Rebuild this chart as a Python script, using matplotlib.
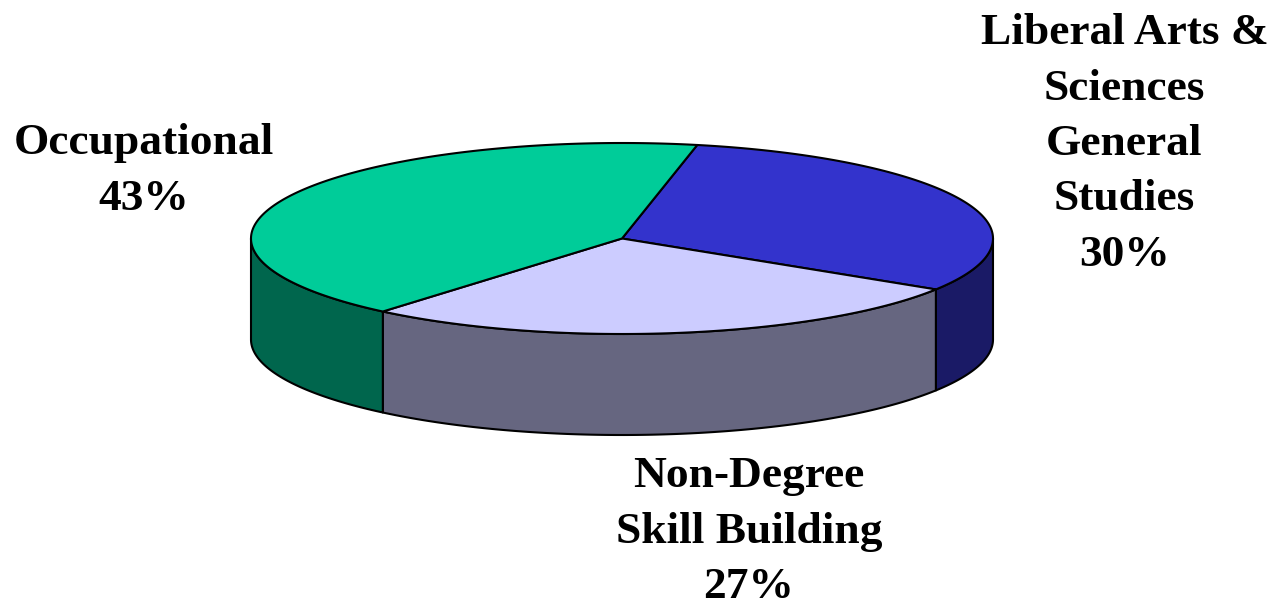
import numpy as np
import matplotlib
matplotlib.use("Agg")
import matplotlib.pyplot as plt
from matplotlib.patches import Polygon

categories = ["Liberal Arts &\nSciences\nGeneral\nStudies", "Non-Degree\nSkill Building", "Occupational"]
shares = [30.7, 27.2, 42.1]
share_labels = ["30%", "27%", "43%"]
top_colors = ["#3333CC", "#CCCCFF", "#00CC99"]
side_colors = ["#1A1A66", "#666680", "#00664D"]
label_pos = [(1124.5, 144), (749, 532), (143.5, 171)]

start_angle = 78.3
cx, cy = 622, 238.5
rx, ry = 371, 95.5
depth = 101


def ellipse_pts(a1, a2, y_off=0):
    t = np.radians(np.linspace(a1, a2, 200))
    return np.column_stack([cx + rx * np.cos(t), cy - ry * np.sin(t) + y_off])


fig = plt.figure(figsize=(12.74, 6.08), dpi=100)
ax = fig.add_axes([0, 0, 1, 1])
ax.set_xlim(0, 1274)
ax.set_ylim(608, 0)
ax.axis("off")

# Angles run clockwise from the start angle
ends = start_angle - np.cumsum(shares) / sum(shares) * 360
starts = np.concatenate([[start_angle], ends[:-1]])

# Side walls first, only the part facing the viewer
for a1, a2, col in zip(starts, ends, side_colors):
    hi = min(a1, 0)
    lo = max(a2, -180)
    if hi <= lo:
        continue
    upper = ellipse_pts(hi, lo)
    lower = ellipse_pts(lo, hi, depth)
    ax.add_patch(Polygon(np.vstack([upper, lower]), closed=True, facecolor=col,
                         edgecolor="black", linewidth=1.5, joinstyle="round"))

# Top face
for a1, a2, col in zip(starts, ends, top_colors):
    pts = np.vstack([[cx, cy], ellipse_pts(a1, a2)])
    ax.add_patch(Polygon(pts, closed=True, facecolor=col, edgecolor="black",
                         linewidth=1.5, joinstyle="round"))

# Labels
for name, pct, (x, y) in zip(categories, share_labels, label_pos):
    ax.text(x, y, name + "\n" + pct, ha="center", va="center", multialignment="center",
            family="Liberation Serif", weight="bold", fontsize=32.7, color="black",
            linespacing=1.5)

fig.savefig("out.png", dpi=100, facecolor="white")
